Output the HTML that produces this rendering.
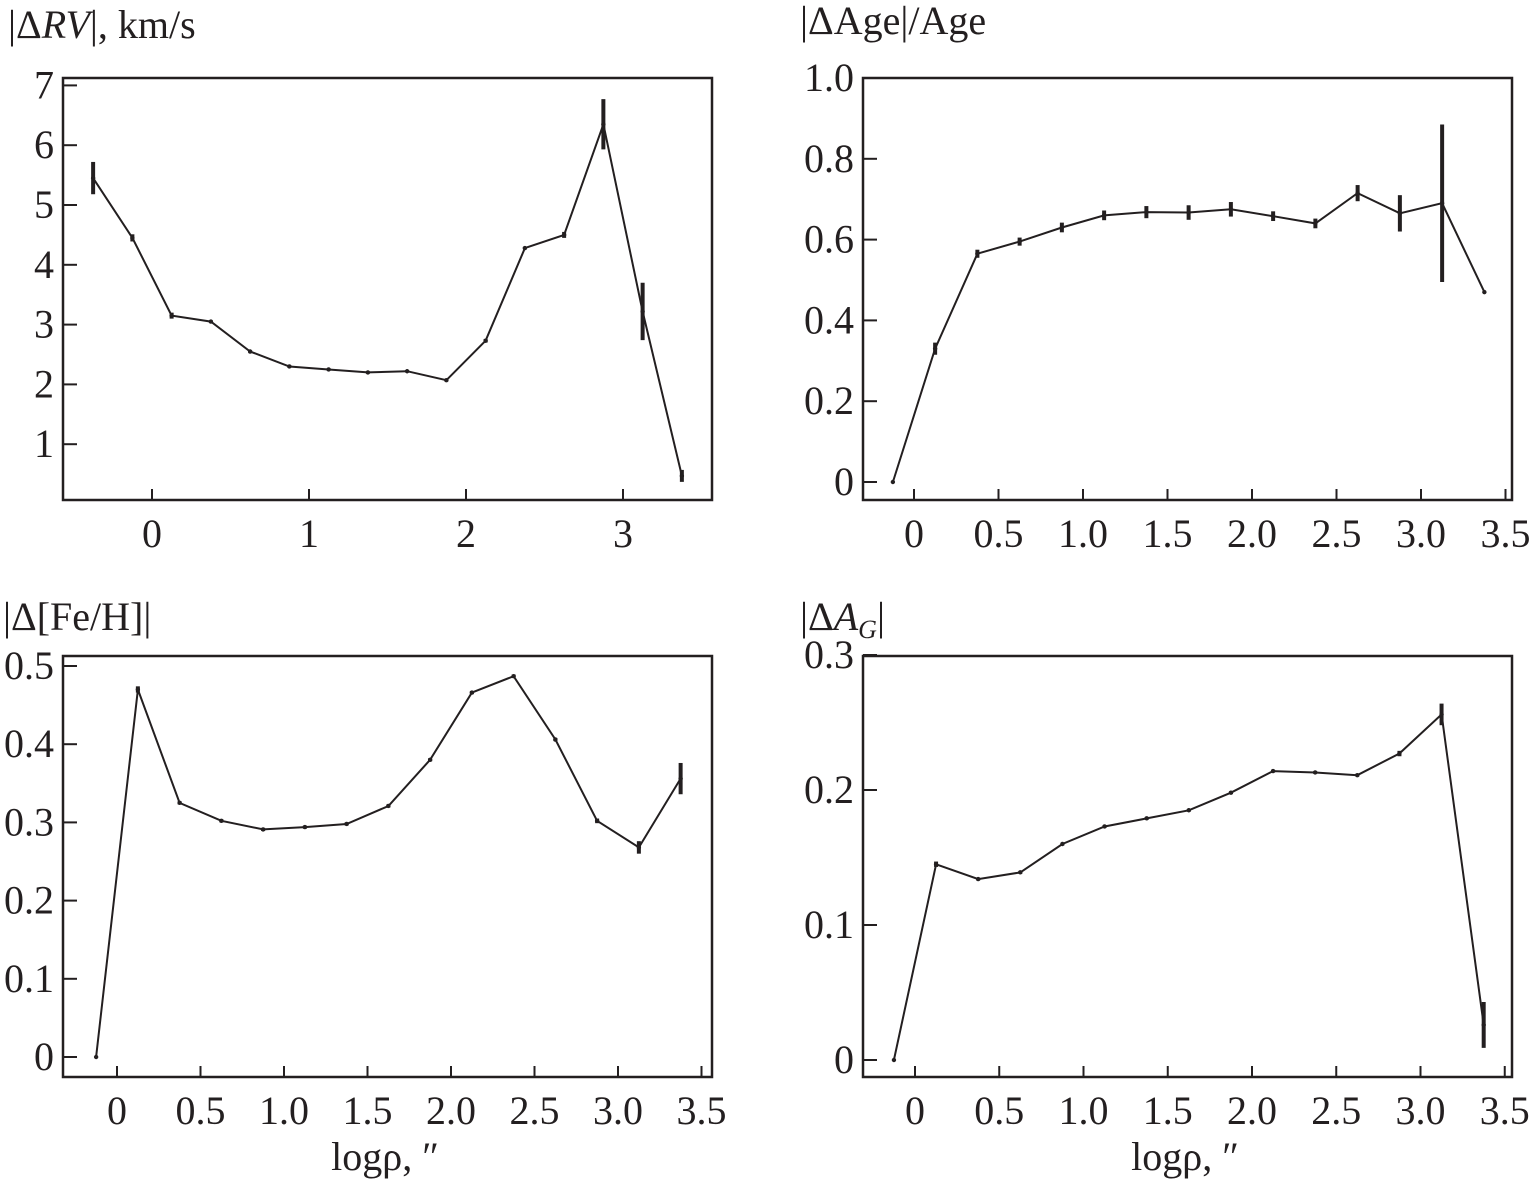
<!DOCTYPE html>
<html><head><meta charset="utf-8">
<style>
body{margin:0;background:#fff;}
svg text{font-family:"Liberation Serif",serif;fill:#231f20;}
</style></head>
<body>
<svg id="fig" width="1530" height="1184" viewBox="0 0 1530 1184" xmlns="http://www.w3.org/2000/svg">
<text x="8" y="38" font-size="40">|Δ<tspan font-style="italic">RV</tspan>|, km/s</text>
<text x="800" y="34" font-size="40">|ΔAge|/Age</text>
<text x="3" y="630" font-size="40">|Δ[Fe/H]|</text>
<text x="800" y="630" font-size="40">|Δ<tspan font-style="italic">A</tspan><tspan font-style="italic" font-size="26" dy="8">G</tspan><tspan dy="-8">|</tspan></text>
<text x="385" y="1170" font-size="40" text-anchor="middle">logρ, ″</text>
<text x="1185" y="1170" font-size="40" text-anchor="middle">logρ, ″</text>
</svg>
<script>
const xsRV=[-0.375,-0.125,0.125,0.375,0.625,0.875,1.125,1.375,1.625,1.875,2.125,2.375,2.625,2.875,3.125,3.375];
const valsRV=[5.45,4.45,3.15,3.05,2.55,2.3,2.25,2.2,2.22,2.07,2.73,4.28,4.5,6.35,3.22,0.47];
const errRV=[0.27,0.06,0.05,0.02,0.02,0.02,0.02,0.02,0.02,0.02,0.03,0.02,0.05,0.42,0.48,0.1];
const xsB=[-0.125,0.125,0.375,0.625,0.875,1.125,1.375,1.625,1.875,2.125,2.375,2.625,2.875,3.125,3.375];
const valsAge=[0,0.33,0.565,0.595,0.63,0.66,0.668,0.667,0.675,0.658,0.64,0.715,0.665,0.69,0.47];
const errAge=[0,0.015,0.01,0.01,0.012,0.012,0.015,0.018,0.018,0.012,0.012,0.02,0.045,0.195,0];
const valsFeH=[0,0.47,0.325,0.302,0.291,0.294,0.298,0.321,0.38,0.466,0.487,0.406,0.302,0.268,0.356];
const errFeH=[0,0.004,0.002,0.002,0.002,0.002,0.002,0.002,0.002,0.002,0.002,0.002,0.003,0.008,0.02];
const valsAG=[0,0.145,0.134,0.139,0.16,0.173,0.179,0.185,0.198,0.214,0.213,0.211,0.227,0.256,0.026];
const errAG=[0,0.002,0.001,0.001,0.001,0.001,0.001,0.001,0.001,0.001,0.001,0.001,0.002,0.008,0.017];
const ticksRVx=[0,1,2,3], ticksRVy=[1,2,3,4,5,6,7];
const ticksBx=[0,0.5,1.0,1.5,2.0,2.5,3.0,3.5];
const ticksAgeY=[0,0.2,0.4,0.6,0.8,1.0];
const ticksFeHY=[0,0.1,0.2,0.3,0.4,0.5];
const ticksAGY=[0,0.1,0.2,0.3];
const NS="http://www.w3.org/2000/svg";
const svg=document.getElementById('fig');
function mk(tag,attrs,parent){const e=document.createElementNS(NS,tag);for(const k in attrs)e.setAttribute(k,attrs[k]);(parent||svg).appendChild(e);return e;}
function panel(name,box,x0,xs1,y0,ys1,xt,yt,xfmt,yfmt,xs,vals,errs){
  const g=mk('g',{});
  
  
  const X=v=>x0+v*xs1, Y=v=>y0-v*ys1;
  const r=mk('rect',{x:box[0],y:box[1],width:box[2]-box[0],height:box[3]-box[1],fill:'none',stroke:'#231f20','stroke-width':2.5},g);
  
  
  xt.forEach(t=>{const px=X(t);
    const l=mk('line',{x1:px,x2:px,y1:box[3],y2:box[3]-11,stroke:'#231f20','stroke-width':2},g);
    
    
    const tx=mk('text',{x:px,y:box[3]+47,'font-size':40,'text-anchor':'middle'},g);tx.textContent=xfmt(t);
    
    });
  yt.forEach(t=>{const py=Y(t);
    const l=mk('line',{x1:box[0],x2:box[0]+14,y1:py,y2:py,stroke:'#231f20','stroke-width':2},g);
    
    
    const tx=mk('text',{x:box[0]-9,y:py+13,'font-size':40,'text-anchor':'end'},g);tx.textContent=yfmt(t);
    
    });
  const pts=xs.map((x,i)=>X(x).toFixed(1)+','+Y(vals[i]).toFixed(1)).join(' ');
  const pl=mk('polyline',{points:pts,fill:'none',stroke:'#231f20','stroke-width':2},g);
  
  
  xs.forEach((x,i)=>{
    if(errs[i]>0){const e=mk('line',{x1:X(x),x2:X(x),y1:Y(vals[i]-errs[i]),y2:Y(vals[i]+errs[i]),stroke:'#231f20','stroke-width':4},g);
      
      }
    const c=mk('circle',{cx:X(x),cy:Y(vals[i]),r:2.2,fill:'#231f20'},g);
    
    
  });
}
const f1=t=>t.toFixed(1), f0=t=>t===0?'0':String(t);
const fy=t=>t===0?'0':t.toFixed(1);
panel('rv',[63,78,712,500],152,157,504,59.8,ticksRVx,ticksRVy,f0,f0,xsRV,valsRV,errRV);
panel('age',[863,78,1512,500],914,169,482,404,ticksBx,ticksAgeY,t=>t===0?'0':f1(t),fy,xsB,valsAge,errAge);
panel('feh',[63,656,712,1077],117,167,1057,782,ticksBx,ticksFeHY,t=>t===0?'0':f1(t),fy,xsB,valsFeH,errFeH);
panel('ag',[863,656,1512,1077],915,168.5,1060,1350,ticksBx,ticksAGY,t=>t===0?'0':f1(t),fy,xsB,valsAG,errAG);
</script>
</body></html>
